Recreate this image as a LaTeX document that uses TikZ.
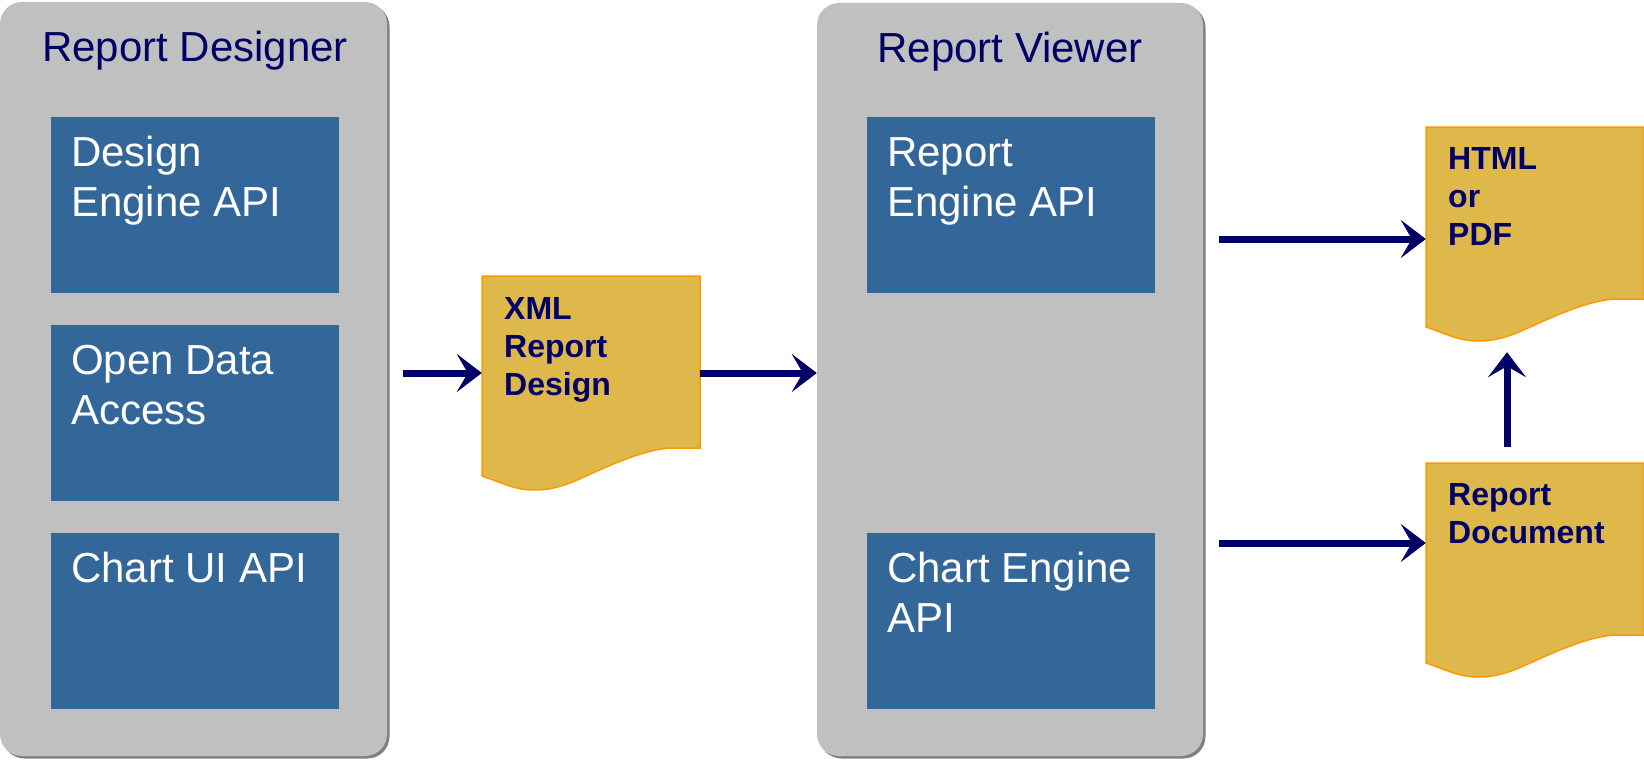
\documentclass[tikz,border=0pt]{standalone}
\usepackage{fontspec}
\setmainfont{Liberation Sans}
\usetikzlibrary{arrows.meta,shadows}
\definecolor{panelgray}{HTML}{C0C0C0}
\definecolor{apiblue}{HTML}{336699}
\definecolor{navy}{HTML}{000066}
\definecolor{docfill}{HTML}{DFB84B}
\definecolor{docedge}{HTML}{FF9900}
\newcommand\docshape[3]{%
 \path[docshape] (#1,#2) -- ({#1+218},#2) -- ({#1+218},#3) -- ({#1+188},#3)
  .. controls ({#1+158},{#3+2}) and ({#1+118},{#3+22}) .. ({#1+93},{#3+33})
  .. controls ({#1+73},{#3+41}) and ({#1+63},{#3+42}) .. ({#1+51},{#3+42})
  .. controls ({#1+33},{#3+42}) and ({#1+18},{#3+34}) .. (#1,{#3+28}) -- cycle;}
\begin{document}
\begin{tikzpicture}[x=1pt,y=-1pt,
 panel/.style={draw=none, fill=panelgray, rounded corners=22pt, inner sep=0,
   drop shadow={shadow xshift=2.5pt, shadow yshift=-2.5pt, fill=black!50, opacity=1}},
 apibox/.style={fill=apiblue, minimum width=288pt, minimum height=176pt, inner sep=0},
 title/.style={font=\fontsize{42}{50}\selectfont, text=navy, inner sep=0, anchor=base},
 apitext/.style={font=\fontsize{42}{50}\selectfont, text=white, align=left, inner sep=0, anchor=base west},
 docarea/.style={inner sep=0, minimum width=218pt, minimum height=214pt},
 doctext/.style={font=\fontsize{32}{38}\selectfont\bfseries, text=navy, align=left, inner sep=0, anchor=base west},
 docshape/.style={fill=docfill, draw=docedge, line width=1.5pt},
 arr/.style={draw=navy, line width=7pt, -{Stealth[length=25pt, width=38pt, inset=11pt]}}
]
\useasboundingbox (0,0) rectangle (1644,760);
% panels
\node[panel, minimum width=387pt, minimum height=754pt] (designer) at (193.5,379) {};
\node[panel, minimum width=386pt, minimum height=753pt] (viewer) at (1010,379.5) {};
\node[title] (designertitle) at (195,62) {Report Designer};
\node[title] (viewertitle) at (1010,63) {Report Viewer};
% api boxes
\node[apibox] (b1) at (195,205) {};
\node[apibox] (b2) at (195,413) {};
\node[apibox] (b3) at (195,621) {};
\node[apibox] (v1) at (1011,205) {};
\node[apibox] (v2) at (1011,621) {};
% base of the last line of each text
\node[apitext] (b1t) at ([xshift=20pt,yshift=-100pt]b1.north west) {Design\\Engine API};
\node[apitext] (b2t) at ([xshift=20pt,yshift=-100pt]b2.north west) {Open Data\\Access};
\node[apitext] (b3t) at ([xshift=20pt,yshift=-50pt]b3.north west) {Chart UI API};
\node[apitext] (v1t) at ([xshift=20pt,yshift=-100pt]v1.north west) {Report\\Engine API};
\node[apitext] (v2t) at ([xshift=20pt,yshift=-100pt]v2.north west) {Chart Engine\\API};
% documents
\docshape{482}{276}{448}
\docshape{1426}{127}{299}
\docshape{1426}{463}{635}
\node[docarea] (xml) at (591,383) {};
\node[docarea] (html) at (1535,234) {};
\node[docarea] (repdoc) at (1535,570) {};
\node[doctext] (xmlt) at (504,395) {XML\\Report\\Design};
\node[doctext] (htmlt) at (1448,245) {HTML\\or\\PDF};
\node[doctext] (repdoct) at (1448,543) {Report\\Document};
% connectors
\coordinate (p1) at ([yshift=10pt]xml.west);
\coordinate (p2) at ([yshift=10pt]xml.east);
\coordinate (p3) at ([yshift=-5pt]html.west);
\coordinate (p4) at ([yshift=27pt]repdoc.west);
\draw[arr, shorten <=16pt] (p1 -| designer.east) -- (p1);
\draw[arr] (p2) -- (p2 -| viewer.west);
\draw[arr, shorten <=16pt] (p3 -| viewer.east) -- (p3);
\draw[arr, shorten <=16pt] (p4 -| viewer.east) -- (p4);
\draw[arr, shorten <=16pt, shorten >=11pt] ([xshift=-28pt]repdoc.north) -- ([xshift=-28pt]html.south);
\end{tikzpicture}
\end{document}
